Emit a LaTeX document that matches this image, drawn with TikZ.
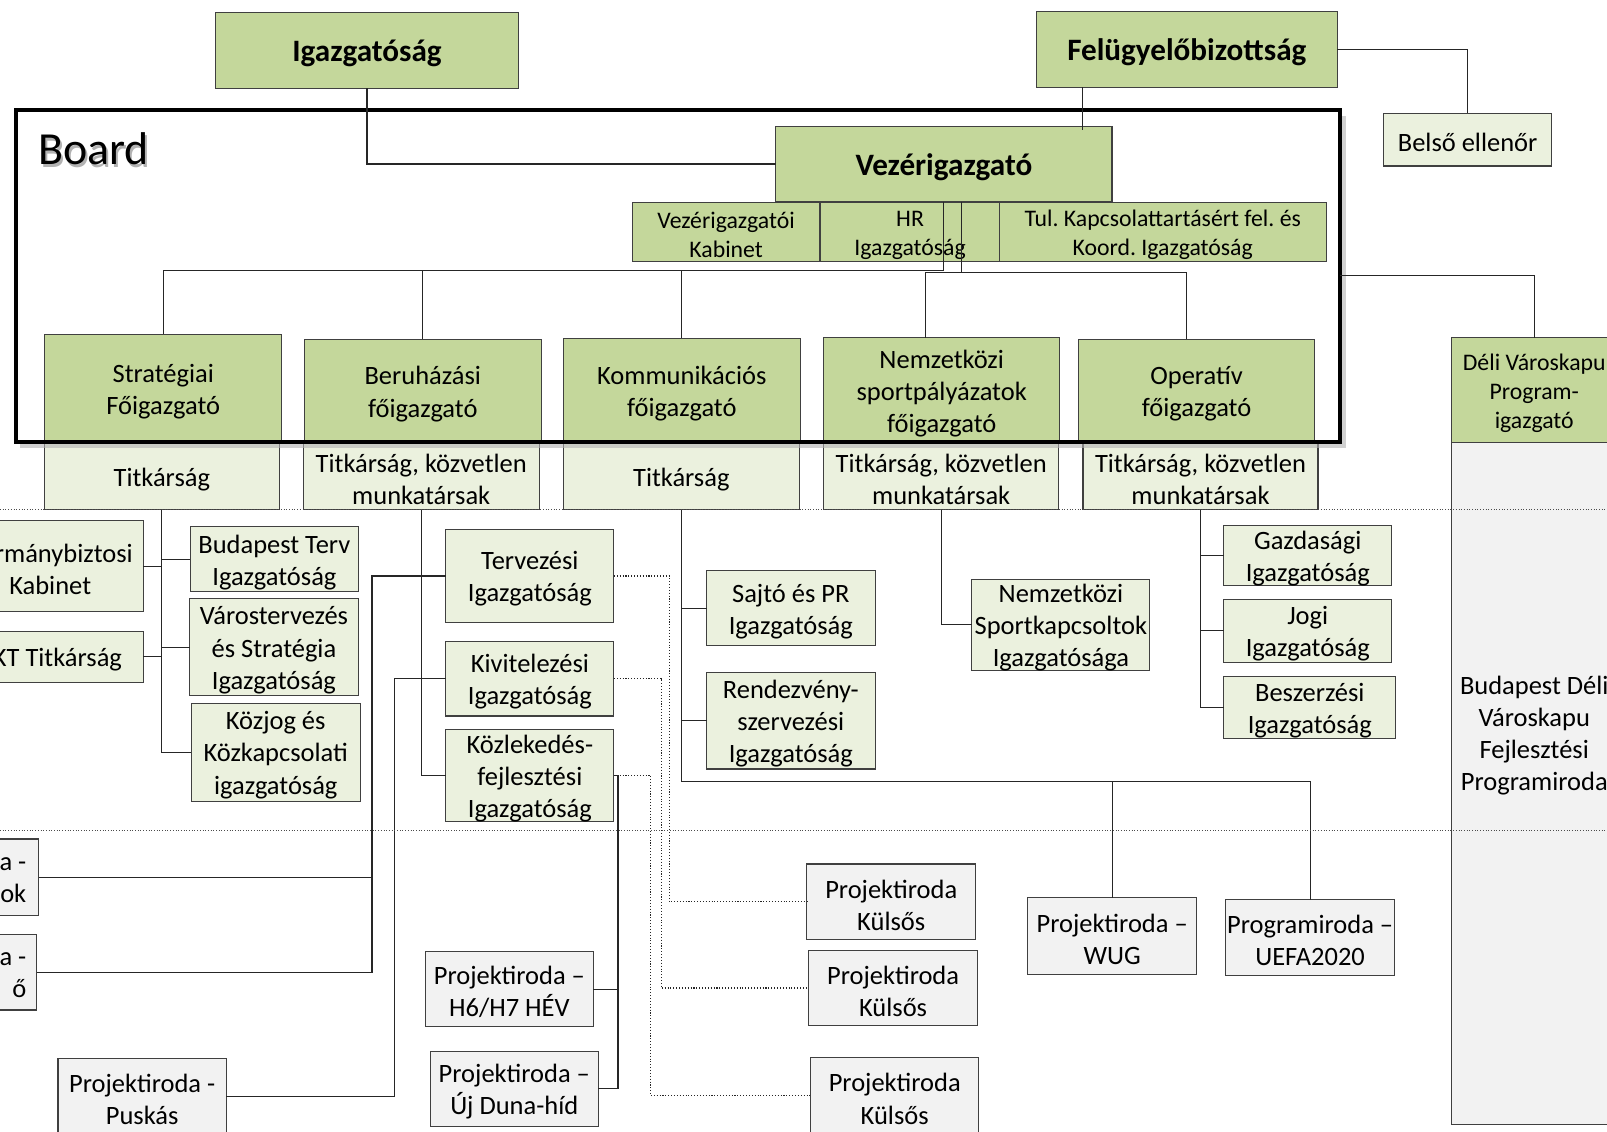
\documentclass[tikz,border=0pt]{standalone}
\usepackage{fontspec}
\setmainfont{Carlito}
\frenchspacing
\usetikzlibrary{calc}

\definecolor{dirgreen}{HTML}{C4D79B}
\definecolor{subgreen}{HTML}{EBF1DE}
\definecolor{projgray}{HTML}{F2F2F2}

\newcommand{\boardfont}{\fontsize{25.5}{30}\selectfont}
% box from its corners: name, style, left, top, right, bottom, text
\newcommand{\orgbox}[7]{%
  \node[#2, minimum width=(#5-(#3))*0.02cm, minimum height=(#6-(#4))*0.02cm]
    (#1) at ({(#3+#5)/2},{(#4+#6)/2}) {};
  \node[#2, draw=none, fill=none] (#1-t) at ($(#1.center)+(0,3)$) {#7};}

\tikzset{
  base/.style={draw=black!75, line width=0.6pt, inner sep=0pt, outer sep=0pt,
    align=center, font=\fontsize{14.7}{17.8}\selectfont},
  dirbox/.style={base, fill=dirgreen},
  subbox/.style={base, fill=subgreen},
  projbox/.style={base, fill=projgray},
  headbox/.style={dirbox, font=\bfseries\fontsize{17.3}{20}\selectfont},
  smallbox/.style={dirbox, font=\fontsize{13.2}{16.2}\selectfont},
  frame/.style={draw=black, line width=2.2pt, inner sep=0pt, outer sep=0pt},
  txt/.style={inner sep=0pt, align=center, font=\fontsize{14.7}{17.8}\selectfont},
  link/.style={draw=black!85, line width=0.6pt},
  dotlink/.style={link, densely dotted},
  sepline/.style={black!70, line width=0.5pt, densely dotted}
}

\begin{document}
\begin{tikzpicture}[x=0.02cm,y=-0.02cm]
  \useasboundingbox (0,0) rectangle (1568,1104);
  \clip (0,0) rectangle (1568,1104);

  % top level
  \orgbox{igaz}{headbox}{210.5}{12.4}{505.7}{86}{Igazgatóság}
  \orgbox{felugy}{headbox}{1011}{11.4}{1305}{85}{Felügyelőbizottság}
  \orgbox{belso}{subbox}{1350}{110.6}{1514}{162}{Belső ellenőr}
  \orgbox{vez}{headbox}{757}{123}{1085}{197}{Vezérigazgató}
  \orgbox{kab}{smallbox}{617}{198}{800}{255}{Vezérigazgatói\\Kabinet}
  \orgbox{hr}{smallbox}{801}{198}{975}{255}{HR\\Igazgatóság}
  \orgbox{tul}{smallbox}{975}{198}{1294}{255}{Tul. Kapcsolattartásért fel. és\\Koord. Igazgatóság}

  % directors
  \orgbox{strat}{dirbox}{43.8}{326}{274.8}{432}{Stratégiai\\Főigazgató}
  \orgbox{beruh}{dirbox}{297}{331}{528}{432}{Beruházási\\főigazgató}
  \orgbox{komm}{dirbox}{549.5}{330}{781}{432}{Kommunikációs\\főigazgató}
  \orgbox{nemz}{dirbox}{803.7}{329.5}{1034}{432}{Nemzetközi\\sportpályázatok\\főigazgató}
  \orgbox{oper}{dirbox}{1052}{331}{1283}{432}{Operatív\\főigazgató}

  % secretariats
  \orgbox{sec1}{subbox}{43}{432}{272.8}{497.5}{Titkárság}
  \orgbox{sec2}{subbox}{296}{432}{526}{497.5}{Titkárság, közvetlen\\munkatársak}
  \orgbox{sec3}{subbox}{549.5}{432}{780}{497.5}{Titkárság}
  \orgbox{sec4}{subbox}{803.7}{432}{1033}{497.5}{Titkárság, közvetlen\\munkatársak}
  \orgbox{sec5}{subbox}{1056.7}{432}{1286}{497.5}{Titkárság, közvetlen\\munkatársak}

  % programme director
  \orgbox{deli}{smallbox}{1416}{329.5}{1578}{432}{Déli Városkapu\\Program-\\igazgató}
  \orgbox{dvp}{projbox}{1416}{432}{1578}{1097}{}
  \node[txt] (dvptext) at (1497,718) {Budapest Déli\\Városkapu\\Fejlesztési\\Programiroda};

  % strategic branch
  \orgbox{korm}{subbox}{-42}{508}{140}{597}{Kormánybiztosi\\Kabinet}
  \orgbox{kt}{subbox}{-28}{616}{140}{666}{KT Titkárság}
  \orgbox{bpterv}{subbox}{185.5}{514}{350}{577}{Budapest Terv\\Igazgatóság}
  \orgbox{varos}{subbox}{185}{584}{349.5}{679}{Várostervezés\\és Stratégia\\Igazgatóság}
  \orgbox{kozjog}{subbox}{186.6}{686}{351.5}{781.6}{Közjog és\\Közkapcsolati\\igazgatóság}

  % investment branch
  \orgbox{terv}{subbox}{435}{517}{599}{607}{Tervezési\\Igazgatóság}
  \orgbox{kivit}{subbox}{435}{625.6}{599}{698.6}{Kivitelezési\\Igazgatóság}
  \orgbox{kozl}{subbox}{435}{711.6}{599}{802}{Közlekedés-\\fejlesztési\\Igazgatóság}
  \orgbox{po1}{projbox}{-120}{818.6}{38}{893}{}
  \orgbox{po2}{projbox}{-120}{912}{36}{985.5}{}
  \node[txt, anchor=east, align=right] (po1txt) at ($(po1.east)+(-12,3)$) {a -\\ok};
  \node[txt, anchor=east, align=right] (po2txt) at ($(po2.east)+(-10,3)$) {a -\\ő};
  \orgbox{puskas}{projbox}{56.6}{1032.5}{220.8}{1107}{Projektiroda -\\Puskás}
  \orgbox{h6}{projbox}{415}{928.6}{579}{1001.7}{Projektiroda –\\H6/H7 HÉV}
  \orgbox{ujduna}{projbox}{420}{1026}{583.6}{1099}{Projektiroda –\\Új Duna-híd}
  \orgbox{kul1}{projbox}{787.2}{843}{952}{917}{Projektiroda\\Külsős}
  \orgbox{kul2}{projbox}{789}{927}{953.8}{1001}{Projektiroda\\Külsős}
  \orgbox{kul3}{projbox}{791}{1031.5}{955}{1107}{Projektiroda\\Külsős}

  % communication branch
  \orgbox{sajto}{subbox}{689.4}{556.8}{853.8}{630}{Sajtó és PR\\Igazgatóság}
  \orgbox{rendez}{subbox}{689.4}{656.3}{853.8}{750.3}{Rendezvény-\\szervezési\\Igazgatóság}
  \orgbox{wug}{projbox}{1002.7}{876}{1167.6}{950.6}{Projektiroda –\\WUG}
  \orgbox{uefa}{projbox}{1196}{878}{1360.6}{952}{Programiroda –\\UEFA2020}

  % international branch
  \orgbox{nsk}{subbox}{948.3}{565}{1122}{654.4}{Nemzetközi\\Sportkapcsoltok\\Igazgatósága}

  % operative branch
  \orgbox{gazd}{subbox}{1194}{513}{1358}{571}{Gazdasági\\Igazgatóság}
  \orgbox{jogi}{subbox}{1194}{585}{1358}{646}{Jogi\\Igazgatóság}
  \orgbox{besz}{subbox}{1194}{660}{1362}{721}{Beszerzési\\Igazgatóság}

  % board frame with a soft shadow
  \orgbox{board}{frame}{15.6}{107}{1307.6}{431}{}
  \draw[black!30, opacity=0.6, line width=2pt]
    ($(board.south west)+(4,4)$) -- ($(board.south east)+(4,4)$) -- ($(board.north east)+(4,6)$);
  \node[frame, minimum width=1292*0.02cm, minimum height=324*0.02cm] at (board.center) {};

  % connectors, top
  \draw[link] (igaz.south) |- (vez.west);
  \draw[link] ($(felugy.south)+(-102,0)$) -- ($(vez.north)+(135,4)$);
  \draw[link] (felugy.east) -| (belso.north);
  \draw[link] (board.east) -| (deli.north);
  \draw[link] (vez.south) -- ++(0,67) coordinate (busl) -| (strat.north);
  \draw[link] (busl -| beruh.north) -- (beruh.north);
  \draw[link] (busl -| komm.north) -- (komm.north);
  \draw[link] ($(vez.south)+(17,0)$) -- ++(0,69) coordinate (busr);
  \coordinate (nemztop) at ($(nemz.north)+(-16,0)$);
  \coordinate (opertop) at ($(oper.north)+(-9.5,0)$);
  \draw[link] (nemztop) |- (busr) -| (opertop);

  % connectors, strategic
  \draw[link] (sec1.south) |- (kozjog.west);
  \draw[link] (bpterv.west) -- (bpterv.west -| sec1.south);
  \draw[link] (varos.west) -- (varos.west -| sec1.south);
  \draw[link] (korm.east) -- (korm.east -| sec1.south);
  \draw[link] (kt.east) -- (kt.east -| sec1.south);

  % connectors, investment
  \draw[link] (sec2.south) |- (kozl.west);
  \draw[link] (terv.west) -- ++(-72,0) coordinate (tj) |- (po2.east);
  \draw[link] (po1.east) -- (po1.east -| tj);
  \draw[link] (kivit.west) -- ++(-50,0) |- (puskas.east);
  \draw[link] (kozl.east) -- ++(4,0) coordinate (kj) |- (ujduna.east);
  \draw[link] (h6.east) -- (h6.east -| kj);
  \draw[dotlink] (terv.east) -- ++(54,0) |- (kul1.west);
  \draw[dotlink] (kivit.east) -- ++(46,0) |- (kul2.west);
  \draw[dotlink] (kozl.east) -- ++(36,0) |- (kul3.west);

  % connectors, communication
  \draw[link] (sec3.south) -- ++(0,265) coordinate (kb) -| (wug.north);
  \draw[link] (wug.north |- kb) -| (uefa.north);
  \draw[link] (sajto.west) -- (sajto.west -| kb);
  \draw[link] (rendez.west) -- (rendez.west -| kb);

  % connectors, international and operative
  \draw[link] (sec4.south) |- (nsk.west);
  \draw[link] (sec5.south) |- (besz.west);
  \draw[link] (gazd.west) -- (gazd.west -| sec5.south);
  \draw[link] (jogi.west) -- (jogi.west -| sec5.south);

  % level separators
  \draw[sepline] (0,497.5) -- (1568,497.5);
  \draw[sepline] (0,810) -- (1568,810);

  % board label with shadow
  \node[anchor=base west, inner sep=0pt, text=black!30, font=\boardfont] at (39,163.5) {Board};
  \node[anchor=base west, inner sep=0pt, font=\boardfont] (boardlbl) at (37,161) {Board};
\end{tikzpicture}
\end{document}
